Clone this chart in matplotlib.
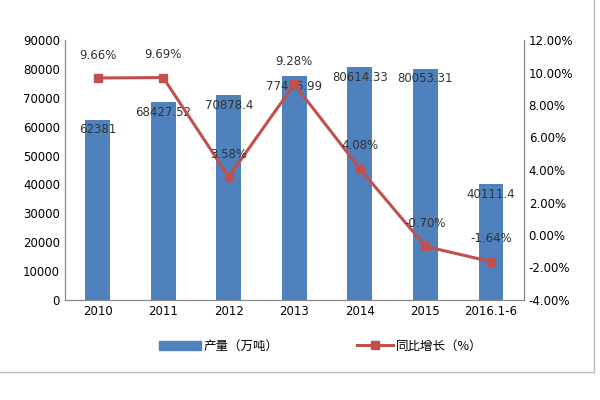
import matplotlib
matplotlib.use("Agg")
import matplotlib.pyplot as plt
from matplotlib import font_manager
from matplotlib.ticker import FuncFormatter

years = ["2010", "2011", "2012", "2013", "2014", "2015", "2016.1-6"]
output = [62381, 68427.52, 70878.4, 77456.99, 80614.33, 80053.31, 40111.4]
output_labels = ["62381", "68427.52", "70878.4", "77456.99", "80614.33", "80053.31", "40111.4"]
growth = [9.66, 9.69, 3.58, 9.28, 4.08, -0.70, -1.64]

# pick whichever CJK font the font manager actually knows about
cjk_names = sorted({f.name for f in font_manager.fontManager.ttflist if "CJK" in f.name})
cjk_files = [f.fname for f in font_manager.fontManager.ttflist if "CJK" in f.name]
if cjk_names:
    cjk = font_manager.FontProperties(family=cjk_names[0], size=9)
elif cjk_files:
    cjk = font_manager.FontProperties(fname=cjk_files[0], size=9)
else:
    cjk = font_manager.FontProperties(size=9)

fig = plt.figure(figsize=(6, 4), dpi=100)
ax = fig.add_axes([0.108, 0.25, 0.765, 0.65])
x = range(len(years))
ax.bar(x, output, width=0.38, color="#4f81bd", zorder=2)
ax.set_ylim(0, 90000)
ax.set_yticks(range(0, 90001, 10000))
ax.set_xlim(-0.5, len(years) - 0.5)
ax.set_xticks(list(x))
ax.set_xticklabels(years)
ax.tick_params(labelsize=8.5, length=0)
for i, (v, s) in enumerate(zip(output, output_labels)):
    ax.text(i, v - 3500, s, ha="center", va="center", fontsize=8.5, color="#333333", zorder=5)
ax.spines["top"].set_visible(False)
for sp in ax.spines.values():
    sp.set_color("#888888")

ax2 = ax.twinx()
ax2.plot(x, growth, color="#c0504d", lw=2.2, marker="s", ms=6, zorder=3)
ax2.set_ylim(-4, 12)
ax2.set_yticks(range(-4, 13, 2))
ax2.yaxis.set_major_formatter(FuncFormatter(lambda v, p: f"{v:.2f}%"))
ax2.tick_params(labelsize=8.5, length=0)
ax2.spines["top"].set_visible(False)
for sp in ax2.spines.values():
    sp.set_color("#888888")
for i, g in enumerate(growth):
    ax2.text(i, g + 1.4, f"{g:.2f}%", ha="center", va="center", fontsize=8.5, color="#333333")

fig.patches.append(plt.Rectangle((0.265, 0.125), 0.07, 0.022, color="#4f81bd", transform=fig.transFigure))
fig.text(0.34, 0.135, "产量（万吨）", va="center", fontproperties=cjk)
fig.lines.append(plt.Line2D([0.595, 0.655], [0.137, 0.137], color="#c0504d", lw=2.2, transform=fig.transFigure))
fig.lines.append(plt.Line2D([0.625], [0.137], color="#c0504d", marker="s", ms=6, transform=fig.transFigure))
fig.text(0.66, 0.135, "同比增长（%）", va="center", fontproperties=cjk)
fig.lines.append(plt.Line2D([0.0, 0.99], [0.07, 0.07], color="#bbbbbb", lw=1, transform=fig.transFigure))
fig.lines.append(plt.Line2D([0.99, 0.99], [0.07, 1.0], color="#bbbbbb", lw=1, transform=fig.transFigure))

fig.savefig("out.png", dpi=100)
